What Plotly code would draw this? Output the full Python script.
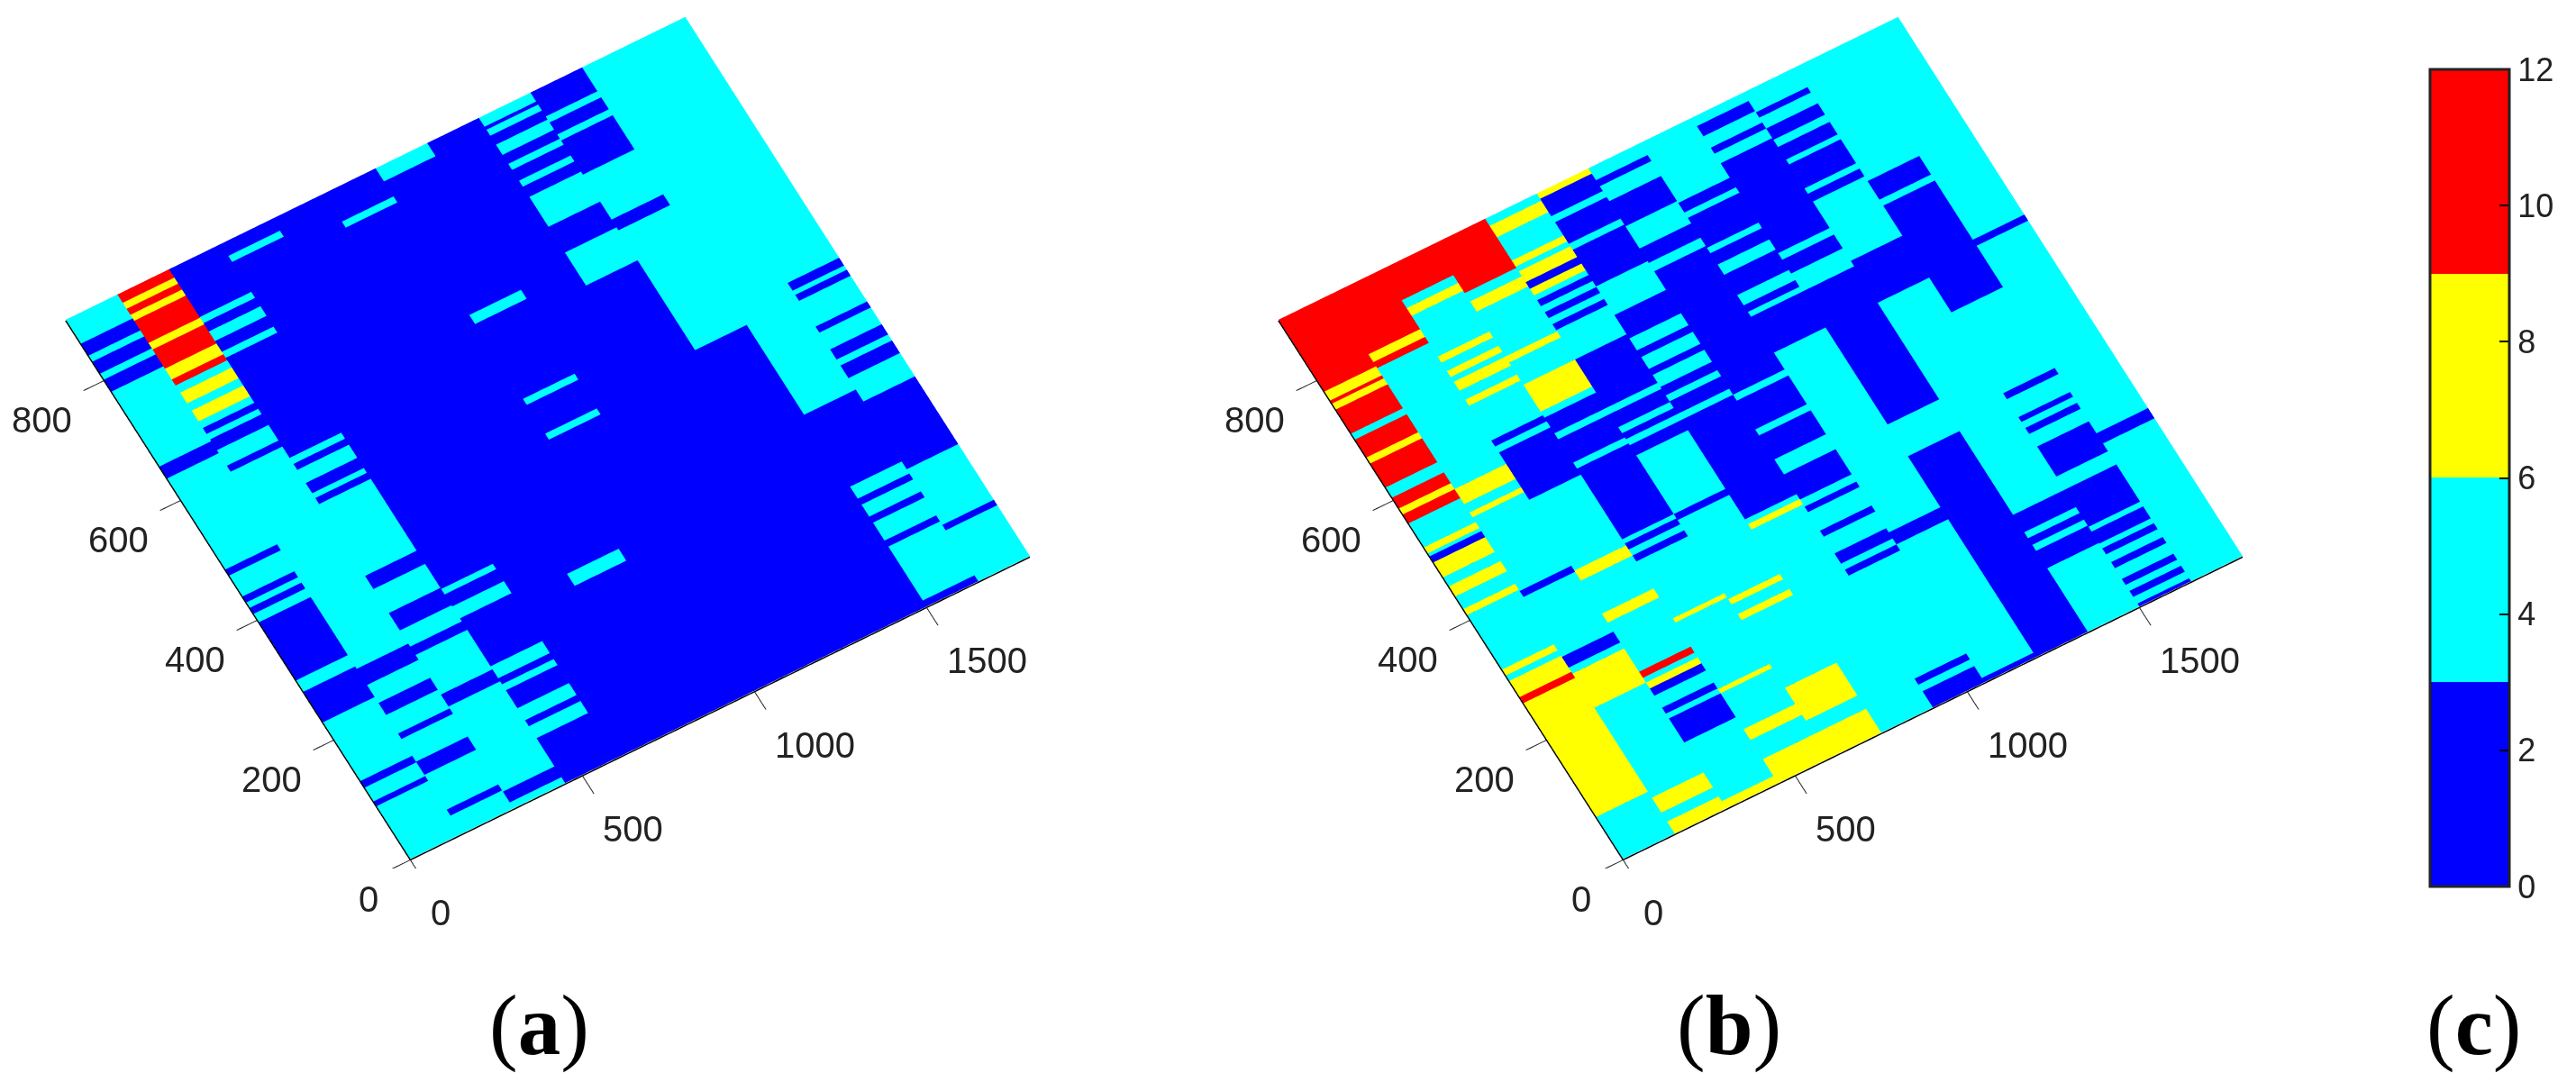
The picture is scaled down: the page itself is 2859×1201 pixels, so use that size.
import math
import plotly.graph_objects as go

# colour levels used in the two maps
B, C, Y, R = 2, 5, 8, 11

X_STEP = 150
X_MAX = 1800
Y_MAX = 900
ROW = 10  # rows below are counted from the top edge, 10 units each

# each column: value, row where that value ends, value, row ...
A_COLS = [
    [C,4,B,6,C,7,B,9,C,10,B,12,C,24.5,B,26.5,C,41.7,B,42.7,C,46.2,B,47.2,C,48.1,B,49.1,C,50.5,B,60.2,C,62.1,B,67.2,C,77,B,78.1,C,80.4,B,81.2,C,90],
    [R,1.4,Y,2.4,R,3.4,Y,4.4,R,8.1,Y,9.2,R,12.4,Y,14.2,R,15.2,C,16.4,Y,18.2,C,19.4,Y,21.2,C,22.3,B,23.3,C,24.2,B,26,C,28.6,B,29.6,C,62.5,B,65.2,C,68.2,B,70.2,C,73.3,B,74.2,C,78,B,80.2,C,86,B,87,C,90],
    [B,8,C,9,B,10.4,C,12,B,13.8,C,14.8,B,31.5,C,32.5,B,33.5,C,35.7,B,37.4,C,38.2,B,39.2,C,51.2,B,53.4,C,57.4,B,60.3,C,63,B,64.4,C,71,B,73,C,87.2,B,89,C,90],
    [B,2,C,3,B,57.6,C,58.5,B,60.5,C,62.5,B,70.5,C,72.5,B,73.5,C,74.5,B,77.5,C,79.5,B,80.5,C,82.5,B,90],
    [B,90],
    [B,4.7,C,5.7,B,63.5,C,65.5,B,90],
    [C,2.2,B,24.5,C,26,B,38.5,C,39.5,B,44.3,C,45.3,B,90],
    [B,90],
    [C,1.5,B,2,C,3,B,4.5,C,6.2,B,7.7,C,8.7,B,10.5,C,11.5,B,13.2,C,18.2,B,22.5,C,28,B,90],
    [B,4,C,5,B,7,C,8,B,13.7,C,21.2,B,23,C,43,B,90],
    [C,58,B,70,C,72,B,73,C,75,B,76,C,79,B,80,C,89,B,90],
    [C,40.2,B,41.5,C,42.2,B,43.2,C,47.5,B,48.5,C,51.3,B,53,C,54,B,56.1,C,60,B,71.3,C,80.6,B,81.5,C,90],
]

B_COLS = [
    [R,12,Y,13.5,R,14,Y,15,R,19,C,20,R,23,Y,24,R,28,C,29.7,R,31.5,Y,32.5,R,34,C,38,Y,39,C,39.5,B,40.5,Y,43,C,44.5,Y,46.2,C,48.3,Y,49.3,C,58.4,Y,59.4,C,60.3,Y,63,R,64,Y,83,C,90],
    [R,10,Y,11.3,R,12.3,C,32.5,Y,35,C,36.4,Y,37.2,C,49.5,B,50.5,C,60.5,B,62.3,C,63.3,Y,69,C,84,Y,86.5,C,88,Y,90],
    [R,5.2,C,6.5,Y,7.8,C,14.6,Y,15.6,C,17,Y,18,C,18.8,Y,20.3,C,21.8,Y,22.8,C,28.6,B,29.6,C,30.6,B,38.5,C,50.3,Y,52,C,57.5,Y,59,C,67.2,R,68.2,C,69,Y,70,B,71.2,C,73.2,B,74.2,C,75,B,79,C,88.8,Y,90],
    [R,8.2,C,9.6,Y,11.3,C,18.8,Y,19.8,C,23.5,Y,28,C,29,B,31.6,C,32.6,B,36.5,C,37.5,B,49.3,C,50,B,51,C,52,B,53,C,62.5,Y,63.2,C,74.3,Y,75,C,81,Y,82.8,C,86,Y,90],
    [C,1.2,Y,3.1,C,7,Y,8,C,8.8,Y,10.6,B,11.7,Y,12.8,C,13.6,B,14.6,C,15.6,B,16.6,C,17.6,B,18.6,C,23.5,B,31.6,C,32.6,B,34.8,C,35.8,B,36.8,C,37.8,B,39.5,C,49.3,B,50.3,C,63.5,Y,64.4,C,66,Y,67,C,78.3,Y,83.8,C,86,Y,90],
    [Y,0.9,B,3.8,C,4.8,B,8.4,C,9.4,B,15.5,C,20.3,B,24.2,C,26.2,B,27.3,C,29.3,B,30.3,C,32.3,B,33.7,C,34.7,B,36.8,C,37.8,B,54.4,C,55.2,Y,56.1,C,90],
    [C,2,B,3,C,5.5,B,9.7,C,13.4,B,15.8,C,17.2,B,37.8,C,38.8,B,43.6,C,44.6,B,48.6,C,51.1,B,55.3,C,56.5,B,57.4,C,60.5,B,61.5,C,64.3,B,66,C,67,B,68,C,85.2,B,86.2,C,87.3,B,90],
    [C,10,B,11.6,C,12.5,B,17.5,C,18.4,B,20.3,C,22,B,25.4,C,27.1,B,28.2,C,29,B,35,C,65,B,67,C,89.3,B,90],
    [C,1.4,B,3.1,C,5,B,6,C,7.6,B,22.6,C,23.7,B,26,C,29,B,51.2,C,56.5,B,90],
    [C,3.3,B,4.2,C,6,B,7.9,C,9.1,B,11.2,C,12,B,16,C,16.9,B,18.2,C,28.1,B,35.1,C,70.5,B,73.4,C,74.4,B,75.5,C,76.5,B,79.4,C,90],
    [C,19,B,22.1,C,23.1,B,40.9,C,54.4,B,55.4,C,58.4,B,59.2,C,60.2,B,61.2,C,63.3,B,68.3,C,70.5,B,76.7,C,77.5,B,79.5,C,80.3,B,81.3,C,82.6,B,83.6,C,85.4,B,86.4,C,87.4,B,88.4,C,89.5,B,90],
    [C,33,B,34,C,65.3,B,67,C,90],
]

X_TICKS = [0, 500, 1000, 1500]
Y_TICKS = [0, 200, 400, 600, 800]
BAR_TICKS = [0, 2, 4, 6, 8, 10, 12]
PANEL_LABELS = ["a", "b", "c"]

COLORSCALE = [
    [0, "#0000ff"], [0.25, "#0000ff"],
    [0.25, "#00ffff"], [0.5, "#00ffff"],
    [0.5, "#ffff00"], [0.75, "#ffff00"],
    [0.75, "#ff0000"], [1, "#ff0000"],
]

W, H = 2859, 1201
TILT = math.radians(29.2)
ELEV = math.radians(61)
EYE_R = 2.0


def value_at(col, row):
    for i in range(0, len(col), 2):
        if row < col[i + 1]:
            return col[i]
    return col[-2]


def build(cols):
    edges = sorted({0} | {e for col in cols for e in col[1::2]})
    xs, ys, colors = [], [], []
    for i in range(len(cols)):
        xs += [i * X_STEP, (i + 1) * X_STEP - 0.01]
    # y runs upward, rows run downward
    for lo, hi in zip(edges[-2::-1], edges[:0:-1]):
        ys += [Y_MAX - hi * ROW, Y_MAX - lo * ROW - 0.01]
        line = []
        for col in cols:
            v = value_at(col, (lo + hi) / 2)
            line += [v, v]
        colors += [line, line]
    return xs, ys, colors


def axis(tickvals, upper):
    return dict(range=[0, upper], tickvals=tickvals, showticklabels=False, ticks="outside",
                ticklen=26, tickwidth=2, tickcolor="#222222", showline=True, linecolor="black",
                linewidth=3, showgrid=False, zeroline=False, showbackground=False,
                showspikes=False, title=dict(text=""))


def tick_notes():
    notes = []
    font = dict(family="Liberation Sans", size=40, color="#222222")
    for v in X_TICKS:
        notes.append(dict(x=v, y=0, z=0, text=str(v), showarrow=False, font=font,
                          xanchor="left", yanchor="middle", xshift=21, yshift=-60))
    for v in Y_TICKS:
        notes.append(dict(x=0, y=v, z=0, text=str(v), showarrow=False, font=font,
                          xanchor="right", yanchor="middle", xshift=-33, yshift=-45))
    return notes


def scene(left, width):
    top = 956
    eye = dict(x=-EYE_R * math.sin(TILT) * math.cos(ELEV),
               y=-EYE_R * math.cos(TILT) * math.cos(ELEV),
               z=EYE_R * math.sin(ELEV))
    return dict(
        domain=dict(x=[left / W, (left + width) / W], y=[1 - top / H, 1]),
        xaxis=axis(X_TICKS, X_MAX),
        yaxis=axis(Y_TICKS, Y_MAX),
        zaxis=dict(range=[-1, 1], visible=False),
        aspectmode="manual",
        aspectratio=dict(x=1.648, y=1.64, z=0.01),
        camera=dict(eye=eye, up=dict(x=0, y=0, z=1), center=dict(x=0, y=0, z=0),
                    projection=dict(type="orthographic")),
        annotations=tick_notes(),
    )


fig = go.Figure()
flat = dict(ambient=1, diffuse=0, specular=0, roughness=1, fresnel=0)

xa, ya, ca = build(A_COLS)
fig.add_trace(go.Surface(
    x=xa, y=ya, z=[[0] * len(xa)] * len(ya), surfacecolor=ca, cmin=0, cmax=12,
    colorscale=COLORSCALE, lighting=flat, hoverinfo="skip", scene="scene",
    colorbar=dict(x=2689 / W, xanchor="left", y=1 - 69 / H, yanchor="top",
                  lenmode="pixels", len=907, thicknessmode="pixels", thickness=88,
                  xpad=0, ypad=0, outlinewidth=3, outlinecolor="#222222", borderwidth=0,
                  tickmode="array", tickvals=BAR_TICKS, ticks="inside", ticklen=12,
                  tickwidth=2, tickcolor="black",
                  tickfont=dict(family="Liberation Sans", size=36, color="#222222")),
))
xb, yb, cb = build(B_COLS)
fig.add_trace(go.Surface(
    x=xb, y=yb, z=[[0] * len(xb)] * len(yb), surfacecolor=cb, cmin=0, cmax=12,
    colorscale=COLORSCALE, lighting=flat, hoverinfo="skip", scene="scene2", showscale=False,
))

labels = []
for name, cx in zip(PANEL_LABELS, [590, 1911, 2737]):
    labels.append(dict(x=cx / W, y=1 - 1130 / H, xref="paper", yref="paper",
                       text="(<b>%s</b>)" % name, showarrow=False, xanchor="center",
                       yanchor="middle",
                       font=dict(family="Liberation Serif", size=95, color="black")))

fig.update_layout(
    width=W, height=H, margin=dict(l=0, r=0, t=0, b=0), paper_bgcolor="white",
    scene=scene(0, 1200), scene2=scene(1346, 1200), annotations=labels, showlegend=False,
)

fig.write_html("out.html")
